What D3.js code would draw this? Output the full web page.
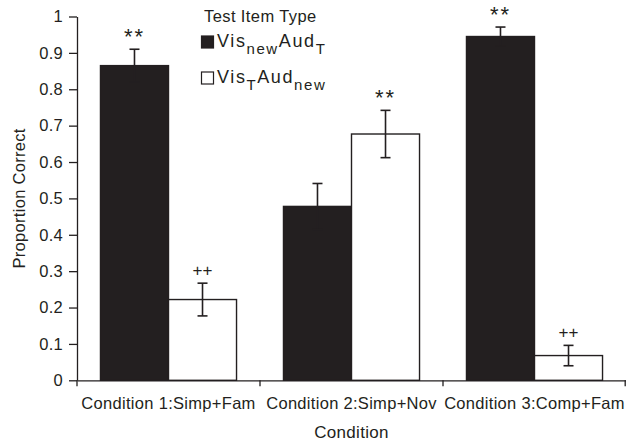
<!DOCTYPE html>
<html>
<head>
<meta charset="utf-8">
<script src="https://cdn.jsdelivr.net/npm/d3@7"></script>
<style>
  body { margin: 0; background: #fff; }
  svg { display: block; font-family: "Liberation Sans", Arial, sans-serif; }
  .axis text { font-size: 16.5px; fill: #231f20; letter-spacing: 0.3px; }
  .axis path, .axis line { stroke: #231f20; stroke-width: 1.3; }
</style>
</head>
<body>
<div id="chart"></div>
<script>
// data
var conditions = ["Condition 1:Simp+Fam", "Condition 2:Simp+Nov", "Condition 3:Comp+Fam"];
var seriesNames = ["visNewAudT", "visTAudNew"];
var visNewAudT = [0.865, 0.478, 0.945];
var visNewAudTErr = [0.045, 0.063, 0.026];
var visTAudNew = [0.222, 0.677, 0.068];
var visTAudNewErr = [0.045, 0.065, 0.028];
var visNewAudTMarks = ["**", "", "**"];
var visTAudNewMarks = ["++", "**", "++"];
var yTicks = [0, 0.1, 0.2, 0.3, 0.4, 0.5, 0.6, 0.7, 0.8, 0.9, 1];
var yTickLabels = ["0", "0.1", "0.2", "0.3", "0.4", "0.5", "0.6", "0.7", "0.8", "0.9", "1"];

var width = 626, height = 442;
var margin = {top: 16.5, right: 0, bottom: 61.7, left: 77};
var dark = "#231f20";

var svg = d3.select("#chart").append("svg")
	.attr("width", width)
	.attr("height", height);

var xScale = d3.scaleBand()
	.domain(conditions)
	.range([margin.left, width - margin.right])
	.padding(0);

var inner = d3.scaleBand()
	.domain(seriesNames)
	.range([0, xScale.bandwidth()])
	.paddingInner(0)
	.paddingOuter(0.345);

var yScale = d3.scaleLinear()
	.domain([0, 1])
	.range([height - margin.bottom, margin.top]);

// rows for bars
var rows = [];
conditions.forEach(function(c, i) {
	rows.push({cond: c, key: "visNewAudT", value: visNewAudT[i], err: visNewAudTErr[i], mark: visNewAudTMarks[i]});
	rows.push({cond: c, key: "visTAudNew", value: visTAudNew[i], err: visTAudNewErr[i], mark: visTAudNewMarks[i]});
});

var fillFor = {visNewAudT: dark, visTAudNew: "#fff"};

svg.selectAll("rect.bar")
	.data(rows)
	.enter().append("rect")
	.attr("class", "bar")
	.attr("x", d => xScale(d.cond) + inner(d.key))
	.attr("width", inner.bandwidth())
	.attr("y", d => yScale(d.value))
	.attr("height", d => yScale(0) - yScale(d.value))
	.style("fill", d => fillFor[d.key])
	.style("stroke", dark)
	.style("stroke-width", 1.4);

// error bars
var capW = 10;
var eb = svg.selectAll("g.err")
	.data(rows)
	.enter().append("g")
	.attr("class", "err")
	.attr("transform", d => "translate(" + (xScale(d.cond) + inner(d.key) + inner.bandwidth() / 2) + ",0)")
	.style("stroke", dark)
	.style("stroke-width", 1.6);

eb.append("line")
	.attr("y1", d => yScale(d.value + d.err))
	.attr("y2", d => yScale(d.value - d.err));
eb.append("line")
	.attr("x1", -capW / 2).attr("x2", capW / 2)
	.attr("y1", d => yScale(d.value + d.err))
	.attr("y2", d => yScale(d.value + d.err));
eb.append("line")
	.attr("x1", -capW / 2).attr("x2", capW / 2)
	.attr("y1", d => yScale(d.value - d.err))
	.attr("y2", d => yScale(d.value - d.err));

// significance marks
svg.selectAll("text.mark")
	.data(rows.filter(d => d.mark))
	.enter().append("text")
	.attr("class", "mark")
	.attr("x", d => xScale(d.cond) + inner(d.key) + inner.bandwidth() / 2)
	.attr("y", d => yScale(d.value + d.err) - (d.mark === "**" ? 5 : 7))
	.attr("text-anchor", "middle")
	.style("fill", dark)
	.style("letter-spacing", d => d.mark === "**" ? "2px" : "0px")
	.style("font-size", d => d.mark === "**" ? "22px" : "17px")
	.text(d => d.mark);

// y axis
var yAxis = d3.axisLeft(yScale)
	.tickValues(yTicks)
	.tickFormat((d, i) => yTickLabels[i])
	.tickSize(8)
	.tickSizeOuter(0)
	.tickPadding(6);

svg.append("g")
	.attr("class", "axis y")
	.attr("transform", "translate(" + margin.left + ",0)")
	.call(yAxis);

// x axis: labels at centres, ticks at group boundaries
var xAxis = d3.axisBottom(xScale)
	.tickSize(0)
	.tickSizeOuter(0)
	.tickPadding(17);

var gx = svg.append("g")
	.attr("class", "axis x")
	.attr("transform", "translate(0," + yScale(0) + ")")
	.call(xAxis);

var bounds = conditions.map(c => xScale(c)).concat([xScale.range()[1] - 0.8]);
gx.selectAll("line.bound")
	.data(bounds)
	.enter().append("line")
	.attr("class", "bound")
	.attr("x1", d => d).attr("x2", d => d)
	.attr("y1", 0).attr("y2", 6);

// axis titles
svg.append("text")
	.attr("x", (xScale.range()[0] + xScale.range()[1]) / 2)
	.attr("y", 438)
	.attr("text-anchor", "middle")
	.style("font-size", "17px")
	.style("letter-spacing", "0.3px")
	.style("fill", dark)
	.text("Condition");

svg.append("text")
	.attr("transform", "translate(25," + ((yScale(0) + yScale(1)) / 2) + ") rotate(-90)")
	.attr("text-anchor", "middle")
	.style("font-size", "16.5px")
	.style("letter-spacing", "0.3px")
	.style("fill", dark)
	.text("Proportion Correct");

// legend
var legend = svg.append("g").attr("transform", "translate(201,0)");
legend.append("text")
	.attr("x", 3).attr("y", 22)
	.style("font-size", "16.5px")
	.style("letter-spacing", "0.4px")
	.style("fill", dark)
	.text("Test Item Type");

var legendItems = [
	{key: "visNewAudT", parts: [["Vis", 0], ["new", 1], ["Aud", 0], ["T", 1]], y: 47},
	{key: "visTAudNew", parts: [["Vis", 0], ["T", 1], ["Aud", 0], ["new", 1]], y: 83}
];

legendItems.forEach(function(it) {
	legend.append("rect")
		.attr("x", 0.5).attr("y", it.y - 11)
		.attr("width", 12).attr("height", 12)
		.style("fill", fillFor[it.key])
		.style("stroke", dark)
		.style("stroke-width", 1.2);
	var t = legend.append("text")
		.attr("x", 16).attr("y", it.y)
		.style("letter-spacing", "1.6px")
		.style("fill", dark);
	var shift = 0;
	it.parts.forEach(function(p) {
		var target = p[1] ? 7 : 0;
		t.append("tspan")
			.attr("dy", target - shift)
			.style("font-size", p[1] ? "15px" : "18px")
			.text(p[0]);
		shift = target;
	});
});
</script>
</body>
</html>
